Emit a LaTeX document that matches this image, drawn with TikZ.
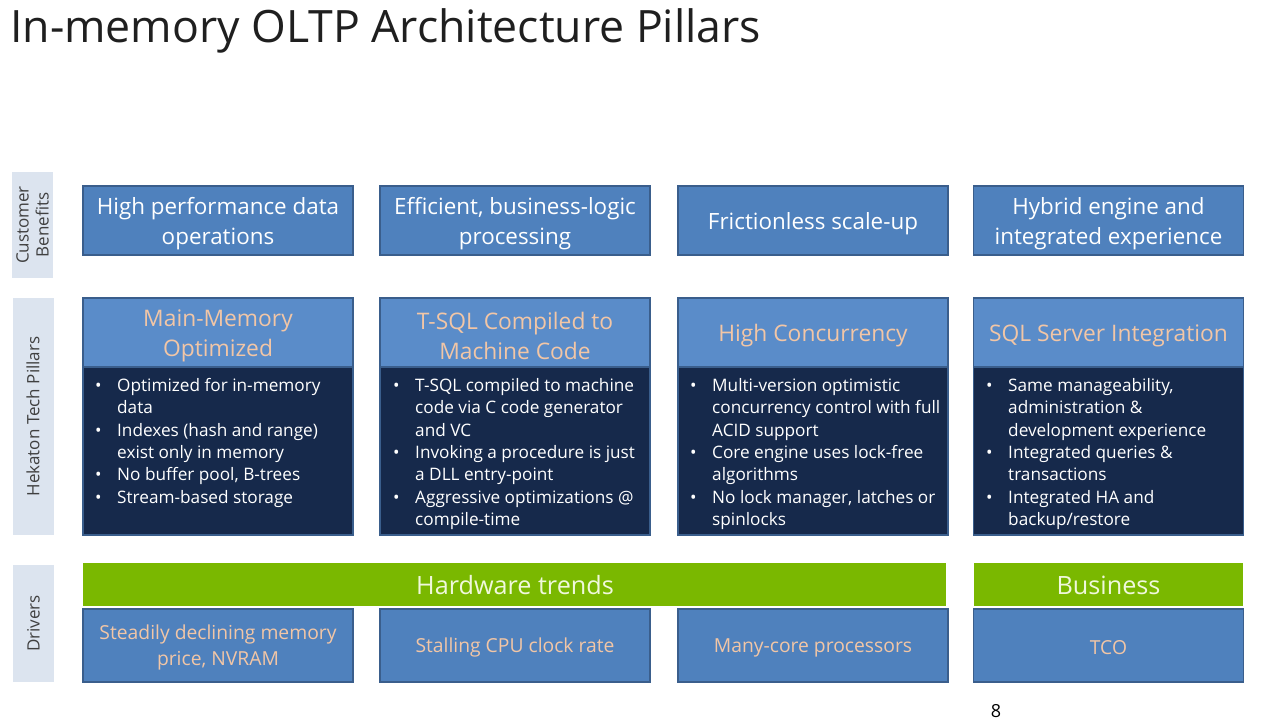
\documentclass[tikz,border=0pt]{standalone}
\usepackage{fontspec}
\setmainfont{Open Sans}
\definecolor{boxblue}{HTML}{4F81BD}
\definecolor{boxedge}{HTML}{3A5E8C}
\definecolor{hdrblue}{HTML}{5A8CC9}
\definecolor{navy}{HTML}{16294B}
\definecolor{peach}{HTML}{F2C6A6}
\definecolor{lbl}{HTML}{DCE4EF}
\definecolor{lbltext}{HTML}{404040}
\definecolor{grn}{HTML}{7AB800}
\definecolor{grntext}{HTML}{F0F8DC}
\newcommand\bul[1]{\makebox[22pt][l]{\textbullet}#1}
\newcommand\ind[1]{\hspace*{22pt}#1}
\tikzset{
  benefit/.style={draw=boxedge, line width=1.5pt, fill=boxblue, minimum width=270, minimum height=69, inner sep=0pt},
  btxt/.style={text=white, align=center, font=\fontsize{22.4}{30}\selectfont, inner sep=0pt},
  header/.style={draw=boxedge, line width=1.5pt, fill=hdrblue, minimum width=270, minimum height=69, inner sep=0pt},
  htxt/.style={text=peach, align=center, font=\fontsize{22.8}{30}\selectfont, inner sep=0pt},
  bodybox/.style={draw=boxedge, line width=1.5pt, fill=navy, minimum width=270, minimum height=168, inner sep=0pt},
  bodytxt/.style={text=white, align=left, font=\fontsize{17.2}{22.4}\selectfont, inner sep=0pt, anchor=north west},
  greenbar/.style={fill=grn, minimum height=43, inner sep=0pt},
  gtxt/.style={text=grntext, font=\fontsize{25.2}{30}\selectfont, inner sep=0pt},
  driver/.style={draw=boxedge, line width=1.5pt, fill=boxblue, minimum width=270, minimum height=73, inner sep=0pt},
  dtxt/.style={text=peach, align=center, font=\fontsize{19.3}{26}\selectfont, inner sep=0pt},
  rowlabel/.style={fill=lbl, minimum height=41, text=lbltext, align=center, rotate=90,
    font=\fontsize{17}{20}\selectfont, inner sep=0pt},
}
\begin{document}
\begin{tikzpicture}[x=1pt,y=-1pt]
\useasboundingbox[fill=white] (0,0) rectangle (1280,720);

% title
\node[anchor=base west, inner sep=0pt, font=\fontsize{44.6}{50}\selectfont, text=black!88] (title) at (10,42) {In-memory OLTP Architecture Pillars};

% row labels (rotated: minimum width is the vertical extent)
\node[rowlabel, minimum width=106] (lb1) at (32.5,225) {Customer\\Benefits};
\node[rowlabel, minimum width=237] (lb2) at (33,416.5) {Hekaton Tech Pillars};
\node[rowlabel, minimum width=117] (lb3) at (33.5,623.5) {Drivers};

% customer benefits
\node[benefit] (cb1) at (218,220.5) {};
\node[benefit] (cb2) at (515,220.5) {};
\node[benefit] (cb3) at (813,220.5) {};
\node[benefit] (cb4) at (1108.5,220.5) {};
\node[btxt] (cb1t) at ([yshift=-3pt]cb1.center) {High performance data\\operations};
\node[btxt] (cb2t) at ([yshift=-3pt]cb2.center) {Efficient, business-logic\\processing};
\node[btxt] (cb3t) at ([yshift=-3pt]cb3.center) {Frictionless scale-up};
\node[btxt] (cb4t) at ([yshift=-3pt]cb4.center) {Hybrid engine and\\integrated experience};

% pillar bodies
\node[bodybox] (pb1) at (218,451) {};
\node[bodybox] (pb2) at (515,451) {};
\node[bodybox] (pb3) at (813,451) {};
\node[bodybox] (pb4) at (1108.5,451) {};

% pillar headers
\node[header] (ph1) at (218,332.5) {};
\node[header] (ph2) at (515,332.5) {};
\node[header] (ph3) at (813,332.5) {};
\node[header] (ph4) at (1108.5,332.5) {};
\node[htxt] (ph1t) at ([yshift=-3pt]ph1.center) {Main-Memory\\Optimized};
\node[htxt] (ph2t) at ([yshift=-3pt]ph2.center) {T-SQL Compiled to\\Machine Code};
\node[htxt] (ph3t) at ([yshift=-3pt]ph3.center) {High Concurrency};
\node[htxt] (ph4t) at ([yshift=-3pt]ph4.center) {SQL Server Integration};

% pillar texts
\node[bodytxt] (pt1) at (95,378) {\bul{Optimized for in-memory}\\\ind{data}\\\bul{Indexes (hash and range)}\\\ind{exist only in memory}\\\bul{No buffer pool, B-trees}\\\bul{Stream-based storage}};
\node[bodytxt] (pt2) at (393,378) {\bul{T-SQL compiled to machine}\\\ind{code via C code generator}\\\ind{and VC}\\\bul{Invoking a procedure is just}\\\ind{a DLL entry-point}\\\bul{Aggressive optimizations @}\\\ind{compile-time}};
\node[bodytxt] (pt3) at (690,378) {\bul{Multi-version optimistic}\\\ind{concurrency control with full}\\\ind{ACID support}\\\bul{Core engine uses lock-free}\\\ind{algorithms}\\\bul{No lock manager, latches or}\\\ind{spinlocks}};
\node[bodytxt] (pt4) at (986,378) {\bul{Same manageability,}\\\ind{administration \&}\\\ind{development experience}\\\bul{Integrated queries \&}\\\ind{transactions}\\\bul{Integrated HA and}\\\ind{backup/restore}};

% green bars
\node[greenbar, minimum width=863] (hw) at (514.5,584.5) {};
\node[greenbar, minimum width=269] (bus) at (1108.5,584.5) {};
\node[gtxt] (hwt) at ([yshift=-1pt]515,584.5) {Hardware trends};
\node[gtxt] (bust) at ([yshift=-1pt]bus.center) {Business};

% drivers
\node[driver] (d1) at (218,645.5) {};
\node[driver] (d2) at (515,645.5) {};
\node[driver] (d3) at (813,645.5) {};
\node[driver] (d4) at (1108.5,645.5) {};
\node[dtxt] (d1t) at ([yshift=-2pt]d1.center) {Steadily declining memory\\price, NVRAM};
\node[dtxt] (d2t) at ([yshift=-2pt]d2.center) {Stalling CPU clock rate};
\node[dtxt] (d3t) at ([yshift=-2pt]d3.center) {Many-core processors};
\node[dtxt] (d4t) at ([yshift=-2pt]d4.center) {TCO};

% page number
\node[font=\fontsize{18}{20}\selectfont, inner sep=0pt] (pg) at (996,711) {8};
\end{tikzpicture}
\end{document}
